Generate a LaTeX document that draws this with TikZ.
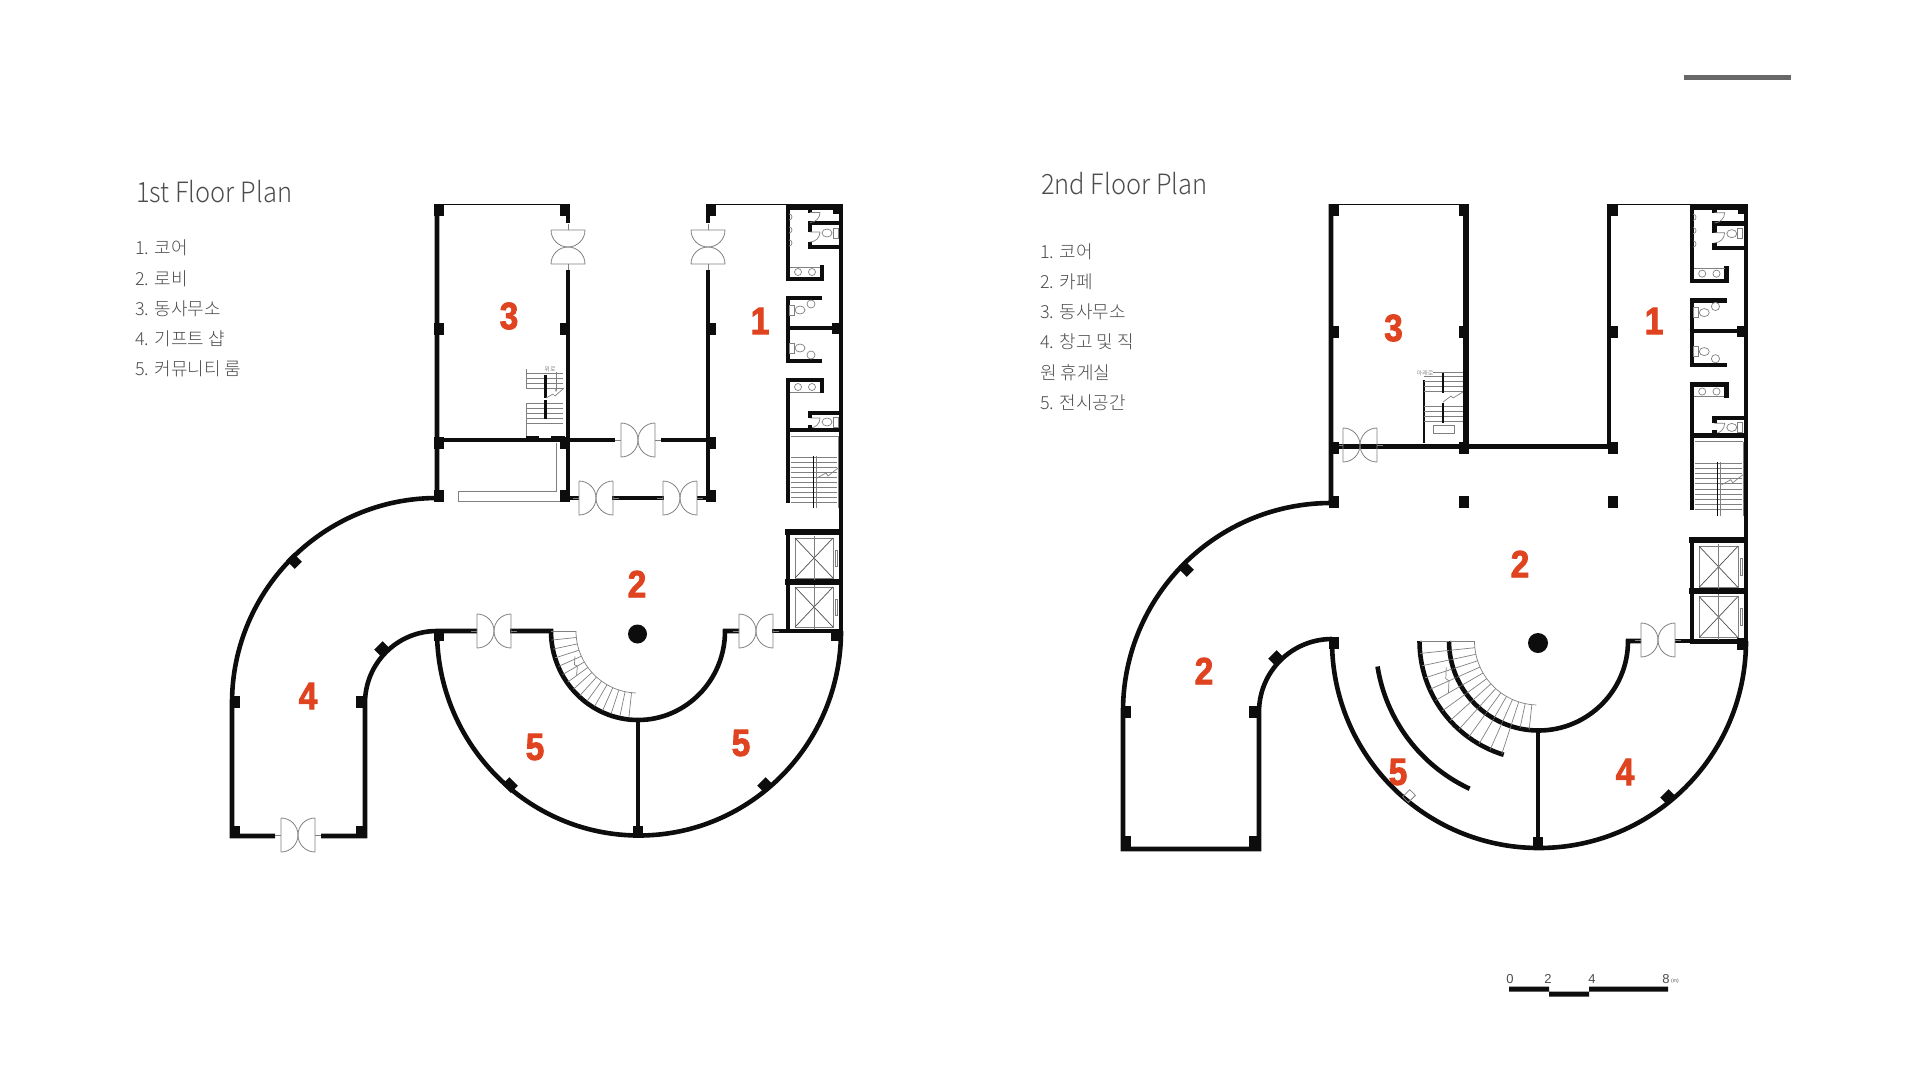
\documentclass[tikz,border=0pt]{standalone}
\usepackage{fontspec}
\usepackage{xcolor}
\usetikzlibrary{arrows.meta}
\newfontfamily\krfont{Noto Sans CJK KR Light}
\newfontfamily\numfont[FakeBold=2.4]{Liberation Sans Bold}
\newfontfamily\barfont{Liberation Sans}
\definecolor{accent}{HTML}{E0431F}
\definecolor{ink}{HTML}{0D0D0D}
\definecolor{muted}{HTML}{808080}
\definecolor{label}{HTML}{4D4D4D}
\tikzset{
  wall/.style={draw=ink, line width=4.6pt, line join=miter},
  wallthick/.style={draw=ink, line width=6pt},
  rim/.style={draw=muted, line width=0.8pt},
  tread/.style={draw=muted, line width=0.7pt},
  cabin/.style={draw=label, line width=0.7pt},
  leaf/.style={draw=muted, line width=0.8pt},
  num/.style={text=accent, xscale=0.88, font=\numfont\fontsize{38}{38}\selectfont, inner sep=0pt},
  title/.style={text=label, anchor=west, xscale=0.91, inner sep=0pt, font=\krfont\fontsize{28}{28}\selectfont},
  item/.style={text=label, anchor=west, inner sep=0pt, font=\krfont\fontsize{18}{18}\selectfont},
  barlab/.style={text=label, inner sep=0pt, font=\barfont\fontsize{13}{13}\selectfont},
  pier/.pic={\fill[ink] (-5,-6) rectangle (5,6);},
  doorpair/.pic={
    \draw[leaf] (-23,0) -- (-17,0) (17,0) -- (23,0);
    \draw[leaf] (-17,-17) -- (-17,17) arc[start angle=90,end angle=-90,radius=17];
    \draw[leaf] (17,-17) -- (17,17) arc[start angle=90,end angle=270,radius=17];
  },
  seat/.pic={
    \draw[tread] (6,-5) rectangle (11,5);
    \draw[tread] (0,0) ellipse (5 and 4);
  },
}
\newcommand{\corewing}{
  \draw[wallthick] (-2,1) -- (55,1);
  \fill[ink] (45,0) rectangle (55,8);
  \draw[wall] (53,0) -- (53,425);
  \draw[wall] (0,0) -- (0,73) -- (34,73) -- (34,59);
  \draw[wall] (22,2) -- (22,7) (22,26) -- (22,17) -- (53,17);
  \draw[wall] (22,36) -- (22,41) -- (53,41);
  \draw[tread] (22,6.5) -- (32,6.5) arc[start angle=0,end angle=90,radius=10];
  \draw[tread] (22,26) -- (32,26) arc[start angle=0,end angle=90,radius=10];
  \draw[tread] (22,212) -- (32,212) arc[start angle=0,end angle=90,radius=10];
  \foreach \y in {11,24,37} \draw[tread] (1,\y-3) arc[start angle=-90,end angle=90,radius=3];
  \foreach \x in {10,24} \draw[tread] (\x,66) circle (3.5) (\x,181) circle (3.5);
  \draw[tread] (2,61) -- (32,61) (2,186) -- (32,186);
  \pic at (39,27) {seat};
  \pic at (39,216) {seat};
  \draw[wall] (34,92) -- (0,92) -- (0,155) -- (34,155);
  \draw[wall] (0,122) -- (53,122);
  \fill[ink] (44,117) rectangle (55,128);
  \draw[tread] (23,98) circle (4) (23,149) circle (4);
  \pic[rotate=180] at (12,104) {seat};
  \pic[rotate=180] at (12,142) {seat};
  \draw[wall] (34,187) -- (34,174) -- (0,174) -- (0,297);
  \draw[wall] (22,212) -- (22,207) -- (53,207);
  \draw[wall] (0,224) -- (53,224);
  \draw[wall] (22,219) -- (22,224);
  \draw[tread] (3,230) -- (50,230) (50,230) -- (50,302);
  \foreach \y in {251,256,...,296} \draw[tread] (3,\y) -- (49,\y);
  \draw[draw=ink, line width=1pt] (25,250) -- (25,302);
  \draw[tread] (28,250) -- (28,302);
  \draw[tread] (29,272) -- (38,267) -- (40,270) -- (50,262);
  \draw[wallthick] (-3,326) -- (55,326);
  \draw[wallthick] (-3,376) -- (55,376);
  \draw[wall] (-2,425) -- (53,425);
  \draw[wall] (0,324) -- (0,425);
  \foreach \y in {332,381} {
    \draw[tread] (7,\y) rectangle (45,\y+40);
    \draw[cabin] (7,\y) -- (45,\y+40) (7,\y+40) -- (45,\y);
    \draw[tread] (26,\y-2) -- (26,\y+42);
    \draw[tread] (47,\y+12) rectangle (49,\y+28);
  }
}
\begin{document}
\begin{tikzpicture}[x=1pt,y=-1pt]
  \useasboundingbox (0,0) rectangle (1920,1080);
  \fill[label!85] (1684,74.5) rectangle (1791,79.5);

  \node[title] (titleA) at (136,192) {1st Floor Plan};
  \foreach \t [count=\i] in {1. 코어,2. 로비,3. 동사무소,4. 기프트 샵,5. 커뮤니티 룸}
    \node[item] (listA\i) at (135,{248+30.3*(\i-1)}) {\t};
  \node[title] (titleB) at (1041,184) {2nd Floor Plan};
  \foreach \t [count=\i] in {1. 코어,2. 카페,3. 동사무소,4. 창고 및 직,원 휴게실,5. 전시공간}
    \node[item] (listB\i) at (1040,{251.5+30.2*(\i-1)}) {\t};

  \draw[rim,draw=ink] (437,204) -- (568,204) (708,204) -- (788,204);
  \draw[wall] (437,204) -- (437,498) arc[start angle=-90,end angle=-180,radius=205]
    -- (232,836) -- (275,836);
  \draw[wall] (321,836) -- (365,836) -- (365,703) arc[start angle=180,end angle=270,radius=72]
    -- (477,631);
  \draw[wall] (510,631) -- (551,631) arc[start angle=180,end angle=0,x radius=87,y radius=89] -- (739,631);
  \draw[wall] (772,631) -- (841,631);
  \draw[wall] (437,631) arc[start angle=180,end angle=0,x radius=202,y radius=204.5];
  \draw[wall] (638,720) -- (638,835);
  \draw[wall] (568,204) -- (568,223) (568,270) -- (568,498);
  \draw[wall] (708,204) -- (708,223) (708,270) -- (708,498);
  \draw[wall] (437,440) -- (615,440) (661,440) -- (708,440);
  \draw[wall] (568,498) -- (579,498) (612,498) -- (664,498) (697,498) -- (708,498);
  \draw[rim] (556,443) -- (556,491) -- (458,491) -- (458,501) -- (563,501);
  \foreach \d/\x/\y in {90/568/247,90/708/247,0/638/440,0/596/498,0/680/498,0/494/631,0/756/631,0/298/835}
    \pic[rotate=\d] at (\x,\y) {doorpair};
  \foreach \x/\y in {439/210,565/210,711/210,439/329,565/329,711/329,439/443,565/443,711/443,
    439/496,565/496,711/496,235/702,361/702,235/832,361/832,439/635,836/635,638/832}
    \pic at (\x,\y) {pier};
  \foreach \d/\x/\y in {45/294/561,-45/382/649,45/510/785,-45/765/785}
    \pic[rotate=\d] at (\x,\y) {pier};
  \fill[ink] (637.5,634) circle (9.5);
  \begin{scope}[shift={(638,631)}]
    \draw[tread] (180:62) arc[start angle=180,end angle=92,radius=62];
    \foreach \a in {180,174,...,92} \draw[tread] (\a:62) -- (\a:87);
    \draw[tread] (158:68) -- (152:72) -- (150:70) -- (144:76);
  \end{scope}
  \draw[tread] (526,369) -- (526,388) (526,403) -- (526,437);
  \foreach \y in {373,378,...,388,403,408,...,425} \draw[tread] (526,\y) -- (563,\y);
  \draw[line width=2.2pt,ink] (545.5,375) -- (545.5,398) (545.5,400) -- (545.5,419);
  \draw[tread,-{Stealth[length=3pt]}] (556,372) -- (556,392);
  \draw[tread] (546,398) -- (553,394) -- (555,396) -- (564,388);
  \draw[line width=2pt,ink] (526,437) -- (539,437) (551,437) -- (565,437);
  \node[text=label,inner sep=0pt,font=\krfont\fontsize{6}{6}\selectfont] (stairA) at (550,369) {위로};
  \begin{scope}[shift={(788,206)}]
    \corewing
  \end{scope}
  \node[num] (roomA3) at (509,316) {3};
  \node[num] (roomA1) at (760,321) {1};
  \node[num] (roomA2) at (637,584) {2};
  \node[num] (roomA4) at (308,696) {4};
  \node[num] (roomA5) at (535,747) {5};
  \node[num] (roomA6) at (741,743) {5};

  \draw[rim,draw=ink] (1331,204) -- (1466,204) (1609,204) -- (1692,204);
  \draw[wall] (1331,204) -- (1331,503) arc[start angle=-90,end angle=-180,radius=208]
    -- (1123,849) -- (1259,849) -- (1259,712) arc[start angle=180,end angle=270,radius=73];
  \draw[wall] (1332,641) arc[start angle=180,end angle=0,radius=207];
  \draw[wall] (1449,641) arc[start angle=180,end angle=0,radius=89.5] -- (1641,641);
  \draw[wall] (1675,641) -- (1746,641);
  \draw[wallthick] (1466,204) -- (1466,446);
  \draw[wall] (1609,204) -- (1609,446);
  \draw[wall,line width=5pt] (1331,446) -- (1609,446);
  \draw[wall] (1538,732) -- (1538,849);
  \foreach \d/\x/\y in {0/1360/445,0/1658/640}
    \pic[rotate=\d] at (\x,\y) {doorpair};
  \foreach \x/\y in {1334/210,1464/210,1613/210,1334/332,1464/332,1613/332,1334/448,1464/448,1613/448,
    1334/502,1464/502,1613/502,1126/712,1254/712,1126/842,1254/842,1334/643,1742/644,1538/843}
    \pic at (\x,\y) {pier};
  \foreach \d/\x/\y in {45/1186/569,-45/1276/658,-45/1668/797}
    \pic[rotate=\d] at (\x,\y) {pier};
  \draw[rim,rotate around={45:(1409,796)}] (1404,792) rectangle (1414,800);
  \fill[ink] (1538,643) circle (10);
  \begin{scope}[shift={(1538.5,641)}]
    \draw[wall] (180:119) arc[start angle=180,end angle=107,radius=119];
    \draw[wall] (171:163) arc[start angle=171,end angle=115,radius=163];
    \draw[tread] (180:64) arc[start angle=180,end angle=92,radius=64];
    \foreach \a in {180,174,...,92} \draw[tread] (\a:64) -- (\a:89);
    \foreach \a in {180,174,...,107} \draw[tread] (\a:90) -- (\a:119);
    \draw[tread] (164:96) -- (158:100) -- (156:98) -- (150:104);
  \end{scope}
  \draw[line width=1.4pt,ink] (1424,380) -- (1424,443);
  \foreach \y in {376,381,...,391,406,411,...,421} \draw[tread] (1424,\y) -- (1463,\y);
  \draw[line width=2.2pt,ink] (1443,373) -- (1443,393) (1443,403) -- (1443,423);
  \draw[tread] (1433,372) -- (1463,372) (1433,425) rectangle (1454,433);
  \draw[tread] (1443,402) -- (1451,396) -- (1453,398) -- (1463,392);
  \node[text=label,inner sep=0pt,font=\krfont\fontsize{6}{6}\selectfont] (stairB) at (1425,373) {아래로};
  \begin{scope}[shift={(1692,206)},xscale=1.02,yscale=1.025]
    \corewing
  \end{scope}
  \node[num] (roomB3) at (1393.5,328) {3};
  \node[num] (roomB1) at (1654,321) {1};
  \node[num] (roomB2) at (1520,564) {2};
  \node[num] (roomB6) at (1204,671) {2};
  \node[num] (roomB5) at (1398,772) {5};
  \node[num] (roomB4) at (1625,772) {4};

  \fill[ink] (1509,986.5) rectangle (1549,991.5) (1549,991.5) rectangle (1589,996.5) (1589,986.5) rectangle (1668,991.5);
  \node[barlab] (barA) at (1510,979) {0};
  \node[barlab] (barB) at (1548,979) {2};
  \node[barlab] (barC) at (1592,979) {4};
  \node[barlab] (barD) at (1666,979) {8};
  \node[text=label,inner sep=0pt,anchor=west,font=\barfont\fontsize{5}{5}\selectfont] (barE) at (1671,981) {(m)};
\end{tikzpicture}
\end{document}
